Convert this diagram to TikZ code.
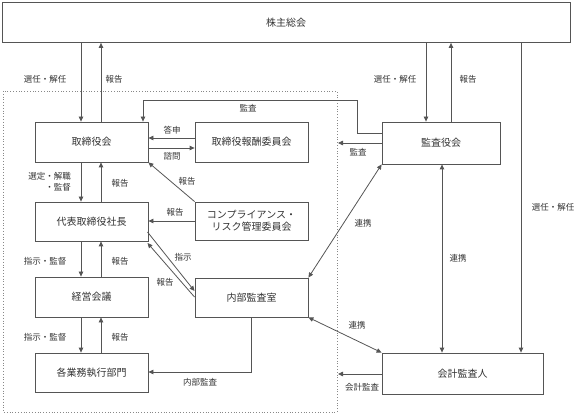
\documentclass[tikz,border=0pt]{standalone}
\usepackage{fontspec}
\setmainfont{Noto Sans CJK JP}
\usetikzlibrary{arrows.meta}
\definecolor{lc}{HTML}{555555}
\definecolor{tc}{HTML}{333333}
\definecolor{dc}{HTML}{888888}
\tikzset{
  box/.style={draw=lc, line width=0.8pt, text=tc, font=\fontsize{10}{12.5}\selectfont, inner sep=0pt, align=center},
  lab/.style={text=tc, font=\fontsize{8.5}{10.5}\selectfont, inner sep=0pt, align=center},
  arr/.style={draw=lc, line width=0.8pt, -{Triangle[length=5pt,width=4.5pt]}},
  dbl/.style={draw=lc, line width=0.8pt, {Triangle[length=5pt,width=4.5pt]}-{Triangle[length=5pt,width=4.5pt]}},
  ln/.style={draw=lc, line width=0.8pt},
}
\begin{document}
\begin{tikzpicture}[x=1pt,y=-1pt]
\useasboundingbox (0,0) rectangle (576,414);
% dotted frame
\draw[dc, line width=0.8pt, dotted] (3,91) rectangle (337,412);
% boxes
\node[box, minimum width=568pt, minimum height=40pt] (top) at (286,22.5) {株主総会};
\node[box, minimum width=113pt, minimum height=40pt] (tori) at (91.5,142) {取締役会};
\node[box, minimum width=113pt, minimum height=40pt] (hoshu) at (251.5,142) {取締役報酬委員会};
\node[box, minimum width=113pt, minimum height=39pt] (daihyo) at (91.5,221.5) {代表取締役社長};
\node[box, minimum width=113pt, minimum height=38pt] (comp) at (251.5,221) {コンプライアンス・\\リスク管理委員会};
\node[box, minimum width=113pt, minimum height=40pt] (keiei) at (91.5,297) {経営会議};
\node[box, minimum width=113pt, minimum height=39pt] (naibu) at (251.5,297.5) {内部監査室};
\node[box, minimum width=113pt, minimum height=39pt] (kakugyo) at (91.5,372.5) {各業務執行部門};
\node[box, minimum width=118pt, minimum height=42pt] (kansa) at (441,143) {監査役会};
\node[box, minimum width=161pt, minimum height=41pt] (kaikei) at (462.5,373.5) {会計監査人};
% helper coordinates
\coordinate (xa) at (81,0);
\coordinate (xb) at (101,0);
\coordinate (xc) at (426,0);
\coordinate (xd) at (451,0);
\coordinate (xe) at (521,0);
\coordinate (xf) at (442,0);
\coordinate (xg) at (251,0);
\coordinate (ya) at (0,138);
\coordinate (yb) at (0,148);
\coordinate (fr1) at (338,143);
\coordinate (fr2) at (338,374);
\coordinate (k1) at (357,133);
\coordinate (k2) at (357,100);
\coordinate (k3) at (143,100);
\coordinate (n1) at (251,372);
\coordinate (d1) at (147.5,232);
\coordinate (d2) at (194.5,291);
\coordinate (d3) at (194.5,297);
\coordinate (d4) at (147.5,243);
% left column verticals
\draw[arr] (top.south -| xa) -- (tori.north -| xa);
\draw[arr] (tori.north -| xb) -- (top.south -| xb);
\draw[arr] (tori.south -| xa) -- (daihyo.north -| xa);
\draw[arr] (daihyo.north -| xb) -- (tori.south -| xb);
\draw[arr] (daihyo.south -| xa) -- (keiei.north -| xa);
\draw[arr] (keiei.north -| xb) -- (daihyo.south -| xb);
\draw[arr] (keiei.south -| xa) -- (kakugyo.north -| xa);
\draw[arr] (kakugyo.north -| xb) -- (keiei.south -| xb);
% committees
\draw[arr] (hoshu.west |- ya) -- (tori.east |- ya);
\draw[arr] (tori.east |- yb) -- (hoshu.west |- yb);
\draw[arr] (comp.north west) -- (tori.south east);
\draw[arr] (comp.west) -- (daihyo.east |- comp.west);
% daihyo <-> naibu
\draw[arr] (d1) -- (d2);
\draw[arr] (d3) -- (d4);
% internal audit
\draw[arr] (naibu.south -| xg) -- (n1) -- (kakugyo.east |- n1);
% kansa audit loop
\draw[arr] (kansa.west |- k1) -- (k1) -- (k2) -- (k3) -- (tori.north -| k3);
\draw[arr] (kansa.west |- fr1) -- (fr1);
% cooperation
\draw[dbl] (kansa.south west) -- (naibu.north east);
\draw[dbl] (kansa.south -| xf) -- (kaikei.north -| xf);
\draw[dbl] (naibu.south east) -- (kaikei.north west);
\draw[arr] (kaikei.west |- fr2) -- (fr2);
% right top verticals
\draw[arr] (top.south -| xc) -- (kansa.north -| xc);
\draw[arr] (kansa.north -| xd) -- (top.south -| xd);
\draw[arr] (top.south -| xe) -- (kaikei.north -| xe);
% labels
\node[lab] (l1) at (45,79) {選任・解任};
\node[lab] (l2) at (114,79) {報告};
\node[lab] (l3) at (395,79) {選任・解任};
\node[lab] (l4) at (468,79) {報告};
\node[lab] (l5) at (553,207) {選任・解任};
\node[lab] (l6) at (248,108) {監査};
\node[lab] (l7) at (172,130) {答申};
\node[lab] (l8) at (172,156) {諮問};
\node[lab, anchor=east, align=right] (l9) at (71,182) {選定・解職\\・監督};
\node[lab] (l10) at (120,183) {報告};
\node[lab] (l11) at (187,181) {報告};
\node[lab] (l12) at (175,212) {報告};
\node[lab] (l13) at (45,261) {指示・監督};
\node[lab] (l14) at (120,261) {報告};
\node[lab] (l15) at (183,257) {指示};
\node[lab] (l16) at (165,282) {報告};
\node[lab] (l17) at (45,337) {指示・監督};
\node[lab] (l18) at (120,337) {報告};
\node[lab] (l19) at (200,382) {内部監査};
\node[lab] (l20) at (358,152) {監査};
\node[lab] (l21) at (363,223) {連携};
\node[lab] (l22) at (458,258) {連携};
\node[lab] (l23) at (357,325) {連携};
\node[lab] (l24) at (362,387) {会計監査};
\end{tikzpicture}
\end{document}
